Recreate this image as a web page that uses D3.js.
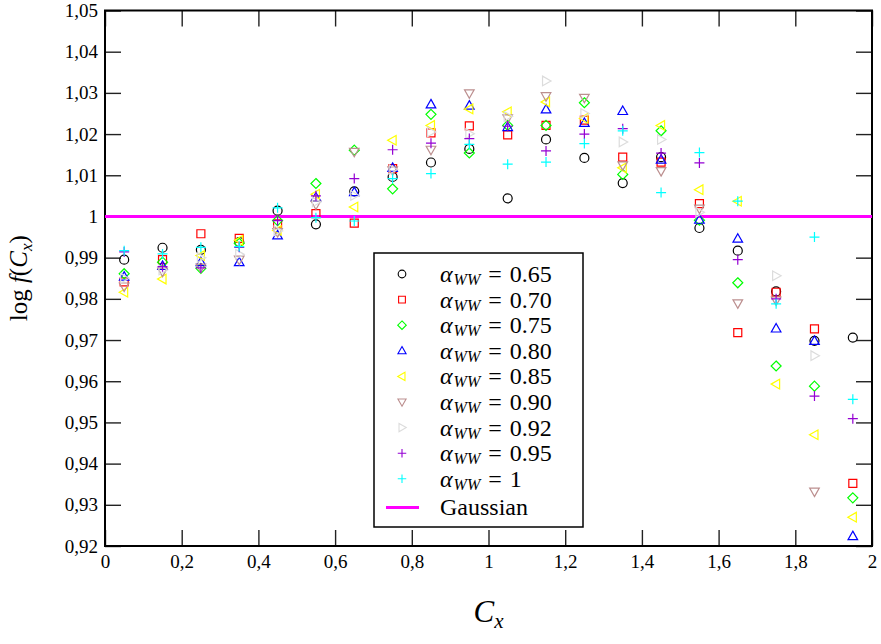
<!DOCTYPE html>
<html>
<head>
<meta charset="utf-8">
<script src="https://cdn.jsdelivr.net/npm/d3@7"></script>
<style>
  body { margin: 0; background: #fff; }
  svg text { font-family: "Liberation Serif", "Times New Roman", "DejaVu Serif", serif; fill: #000; }
  .tick line { stroke: #222; stroke-width: 1.4; }
</style>
</head>
<body>
<svg id="chart" width="881" height="644"></svg>
<script>
// x positions of the points
var cx = [0.05, 0.15, 0.25, 0.35, 0.45, 0.55, 0.65, 0.75, 0.85, 0.95,
          1.05, 1.15, 1.25, 1.35, 1.45, 1.55, 1.65, 1.75, 1.85, 1.95];

// one array per alpha_WW value
var a065 = [0.9895, 0.9924, 0.9919, 0.9938, 1.0014, 0.9981, 1.0061, 1.0096, 1.0131, 1.0164,
            1.0044, 1.0187, 1.0142, 1.0081, 1.0144, 0.9972, 0.9917, 0.9818, 0.9698, 0.9706];
var a070 = [0.9841, 0.9895, 0.9958, 0.9947, 0.9982, 1.0007, 0.9984, 1.0116, 1.0203, 1.0220,
            1.0198, 1.0221, 1.0234, 1.0144, 1.0132, 1.0031, 0.9718, 0.9816, 0.9727, 0.9352];
var a075 = [0.9861, 0.9889, 0.9874, 0.9935, 0.9990, 1.0080, 1.0161, 1.0067, 1.0248, 1.0154,
            1.0221, 1.0221, 1.0276, 1.0102, 1.0208, 0.9991, 0.9839, 0.9637, 0.9588, 0.9317];
var a080 = [0.9854, 0.9880, 0.9889, 0.9889, 0.9954, 1.0046, 1.0059, 1.0118, 1.0272, 1.0269,
            1.0217, 1.0260, 1.0227, 1.0256, 1.0138, 0.9992, 0.9946, 0.9728, 0.9698, 0.9224];
var a085 = [0.9816, 0.9848, 0.9905, 0.9942, 0.9966, 1.0054, 1.0023, 1.0185, 1.0221, 1.0261,
            1.0254, 1.0278, 1.0238, 1.0118, 1.0221, 1.0065, 1.0037, 0.9593, 0.9470, 0.9270];
var a090 = [0.9830, 0.9866, 0.9876, 0.9895, 0.9962, 1.0029, 1.0157, 1.0112, 1.0162, 1.0299,
            1.0238, 1.0292, 1.0288, 1.0124, 1.0110, 1.0019, 0.9789, 0.9796, 0.9332, null];
var a092 = [0.9850, 0.9870, 0.9900, 0.9908, 0.9965, 1.0035, 1.0051, 1.0114, 1.0205, 1.0201,
            1.0243, 1.0329, 1.0250, 1.0181, 1.0187, 1.0010, null, 0.9856, 0.9662, null];
var a095 = [0.9914, 0.9878, 0.9875, 0.9925, 0.9990, 1.0050, 1.0092, 1.0162, 1.0178, 1.0189,
            1.0219, 1.0159, 1.0200, 1.0213, 1.0154, 1.0130, 0.9895, 0.9800, 0.9564, 0.9509];
var a100 = [0.9917, 0.9909, 0.9925, 0.9927, 1.0021, 0.9997, 0.9989, 1.0092, 1.0104, 1.0175,
            1.0127, 1.0132, 1.0177, 1.0208, 1.0058, 1.0155, 1.0037, 0.9788, 0.9950, 0.9556];

var alphaLabels = ["0.65", "0.70", "0.75", "0.80", "0.85", "0.90", "0.92", "0.95", "1"];
var seriesValues = [a065, a070, a075, a080, a085, a090, a092, a095, a100];
var seriesColors = ["#000000", "#ff0000", "#00ff00", "#0000ff", "#ffff00",
                    "#bc8f8f", "#dcdcdc", "#9400d3", "#00ffff"];
var seriesShapes = ["circle", "square", "diamond", "up", "left", "down", "right", "plus", "plus"];

var gaussianLevel = 1;
var xTicks = [0, 0.2, 0.4, 0.6, 0.8, 1, 1.2, 1.4, 1.6, 1.8, 2];
var yTicks = [0.92, 0.93, 0.94, 0.95, 0.96, 0.97, 0.98, 0.99, 1, 1.01, 1.02, 1.03, 1.04, 1.05];

var margin = { top: 10.5, right: 9, bottom: 98, left: 105 },
    width = 881 - margin.left - margin.right,
    height = 644 - margin.top - margin.bottom;

var svg = d3.select("#chart")
    .append("g")
    .attr("transform", "translate(" + margin.left + "," + margin.top + ")");

var x = d3.scaleLinear().domain([0, 2]).range([0, width]);
var y = d3.scaleLinear().domain([0.92, 1.05]).range([height, 0]);

// comma as decimal separator
var fmt = function (d) { return d3.format("~g")(d).replace(".", ","); };

// marker paths, centred on 0,0
function markerPath(shape) {
    switch (shape) {
        case "square": return "M-4,-4H4V4H-4Z";
        case "diamond": return "M0,-5L5,0L0,5L-5,0Z";
        case "up": return "M0,-5L4.8,3.5L-4.8,3.5Z";
        case "down": return "M0,5L4.8,-3.5L-4.8,-3.5Z";
        case "left": return "M-5,0L3.5,-4.8L3.5,4.8Z";
        case "right": return "M5,0L-3.5,-4.8L-3.5,4.8Z";
        case "plus": return "M-5,0H5M0,-5V5";
        default: return "M4.5,0A4.5,4.5 0 1,1 -4.5,0A4.5,4.5 0 1,1 4.5,0Z";
    }
}

// Axes with inward ticks
svg.append("g")
    .attr("transform", "translate(0," + height + ")")
    .call(d3.axisBottom(x).tickValues(xTicks).tickFormat(fmt).tickSizeInner(-16).tickSizeOuter(0).tickPadding(9))
    .call(g => g.select(".domain").remove())
    .selectAll("text").style("font-size", "19px");

svg.append("g")
    .call(d3.axisTop(x).tickValues(xTicks).tickFormat("").tickSizeInner(-16).tickSizeOuter(0))
    .call(g => g.select(".domain").remove());

svg.append("g")
    .call(d3.axisLeft(y).tickValues(yTicks).tickFormat(fmt).tickSizeInner(-16).tickSizeOuter(0).tickPadding(7))
    .call(g => g.select(".domain").remove())
    .selectAll("text").style("font-size", "19px");

svg.append("g")
    .attr("transform", "translate(" + width + ",0)")
    .call(d3.axisRight(y).tickValues(yTicks).tickFormat("").tickSizeInner(-16).tickSizeOuter(0))
    .call(g => g.select(".domain").remove());

// Frame
svg.append("rect")
    .attr("width", width)
    .attr("height", height)
    .attr("fill", "none")
    .attr("stroke", "#000")
    .attr("stroke-width", 2);

// Gaussian reference line
svg.append("line")
    .attr("x1", x(0)).attr("x2", x(2))
    .attr("y1", y(gaussianLevel)).attr("y2", y(gaussianLevel))
    .attr("stroke", "#ff00ff")
    .attr("stroke-width", 3);

// Points
seriesValues.forEach(function (vals, i) {
    var pts = cx.map((c, j) => ({ cx: c, v: vals[j] })).filter(d => d.v != null);
    svg.append("g")
        .selectAll("path")
        .data(pts)
        .enter().append("path")
        .attr("d", markerPath(seriesShapes[i]))
        .attr("transform", d => "translate(" + x(d.cx) + "," + y(d.v) + ")")
        .attr("fill", "none")
        .attr("stroke", seriesColors[i])
        .attr("stroke-width", 1.2);
});

// Legend
var legend = d3.select("#chart").append("g").attr("transform", "translate(374,253)");
legend.append("rect")
    .attr("width", 209).attr("height", 274)
    .attr("fill", "#fff").attr("stroke", "#000").attr("stroke-width", 1.5);

alphaLabels.forEach(function (a, i) {
    var row = legend.append("g").attr("transform", "translate(0," + (21 + i * 25.6) + ")");
    row.append("path")
        .attr("d", markerPath(seriesShapes[i]))
        .attr("transform", "translate(28,0) scale(0.85)")
        .attr("fill", "none")
        .attr("stroke", seriesColors[i])
        .attr("stroke-width", 1.3);
    var t = row.append("text").attr("x", 66).attr("y", 8).style("font-size", "24px");
    t.append("tspan").style("font-style", "italic").text("α");
    t.append("tspan").attr("dx", 1).attr("dy", 3).style("font-size", "16px").style("font-style", "italic").text("WW");
    t.append("tspan").attr("dx", 8).attr("dy", -3).text("=");
    t.append("tspan").attr("dx", 8).text(a);
});
var gRow = legend.append("g").attr("transform", "translate(0," + (24 + 9 * 25.6) + ")");
gRow.append("line").attr("x1", 12).attr("x2", 45)
    .attr("stroke", "#ff00ff").attr("stroke-width", 3);
gRow.append("text").attr("x", 66).attr("y", 8).style("font-size", "24px").text("Gaussian");

// Axis titles
var xt = d3.select("#chart").append("text")
    .attr("x", margin.left + width / 2)
    .attr("y", 622)
    .attr("text-anchor", "middle")
    .style("font-size", "31px");
xt.append("tspan").style("font-style", "italic").text("C");
xt.append("tspan").attr("dy", 6).style("font-size", "21px").style("font-style", "italic").text("x");

var yt = d3.select("#chart").append("text")
    .attr("transform", "translate(27," + (margin.top + height / 2) + ") rotate(-90)")
    .attr("text-anchor", "middle")
    .style("font-size", "25px");
yt.append("tspan").text("log ");
yt.append("tspan").style("font-style", "italic").text("f");
yt.append("tspan").text("(");
yt.append("tspan").style("font-style", "italic").text("C");
yt.append("tspan").attr("dy", 5).style("font-size", "17px").style("font-style", "italic").text("x");
yt.append("tspan").attr("dy", -5).text(")");
</script>
</body>
</html>
